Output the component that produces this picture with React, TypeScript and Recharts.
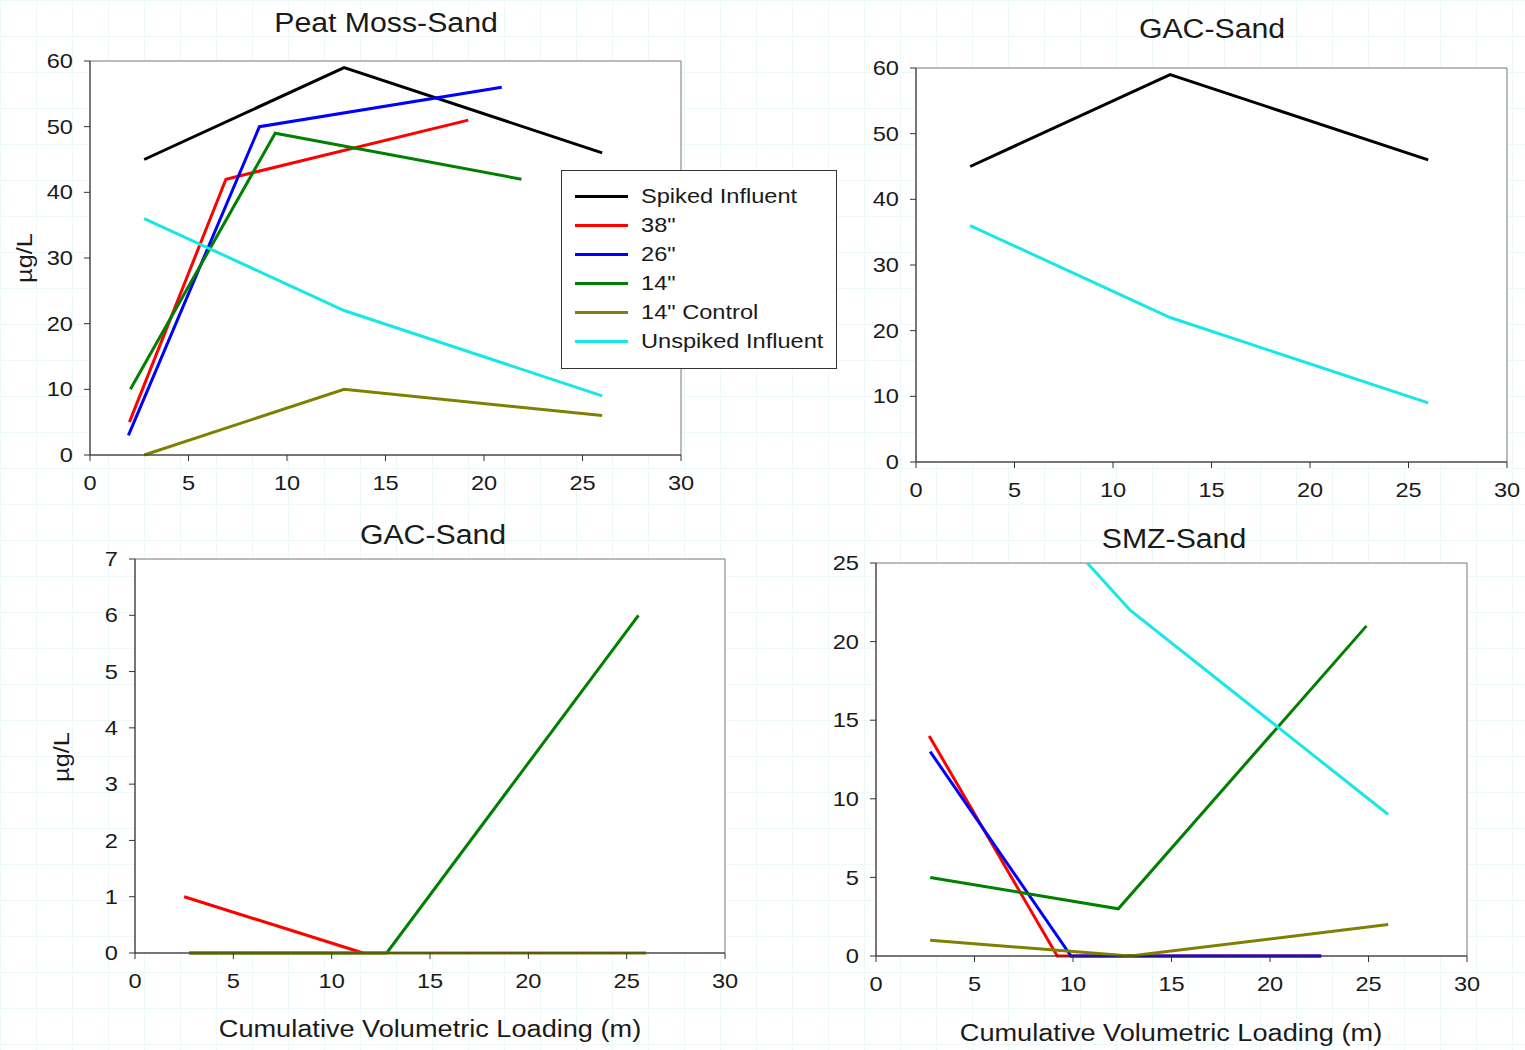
import React from "react";
import { LineChart, Line, XAxis, YAxis, ReferenceArea, Legend } from "recharts";

const FONT = '"Liberation Sans", Arial, sans-serif';
const INK = "#1a1a1a";

type Pt = [number, number];

// x = cumulative volumetric loading (m), y = µg/L
const loadingTicks = [0, 5, 10, 15, 20, 25, 30];
const influentTicks = [0, 10, 20, 30, 40, 50, 60];
const gacTicks = [0, 1, 2, 3, 4, 5, 6, 7];
const smzTicks = [0, 5, 10, 15, 20, 25];

const seriesNames = ["Spiked Influent", '38"', '26"', '14"', '14" Control', "Unspiked Influent"];
const seriesColors = ["#000000", "#ff0000", "#0000ff", "#008000", "#808000", "#19e6e6"];

// Peat Moss-Sand
const peatSpiked: Pt[] = [[2.75, 45], [12.9, 59], [26, 46]];
const peat38: Pt[] = [[2, 5], [6.9, 42], [19.2, 51]];
const peat26: Pt[] = [[1.95, 3], [8.6, 50], [20.9, 56]];
const peat14: Pt[] = [[2.05, 10], [9.4, 49], [21.9, 42]];
const peat14Control: Pt[] = [[2.75, 0], [12.9, 10], [26, 6]];
const peatUnspiked: Pt[] = [[2.75, 36], [12.9, 22], [26, 9]];

// GAC-Sand, influent
const gacSpiked: Pt[] = [[2.75, 45], [12.9, 59], [26, 46]];
const gacUnspiked: Pt[] = [[2.75, 36], [12.9, 22], [26, 9]];

// GAC-Sand, effluent
const gac38: Pt[] = [[2.5, 1], [11.6, 0]];
const gac14: Pt[] = [[2.75, 0], [12.8, 0], [25.6, 6]];
const gac14Control: Pt[] = [[2.75, 0], [12.9, 0], [26, 0]];

// SMZ-Sand
const smz38: Pt[] = [[2.7, 14], [9.2, 0], [22.6, 0]];
const smz26: Pt[] = [[2.75, 13], [9.9, 0], [22.6, 0]];
const smz14: Pt[] = [[2.75, 5], [12.3, 3], [24.9, 21]];
const smz14Control: Pt[] = [[2.75, 1], [12.9, 0], [26, 2]];
const smzUnspiked: Pt[] = [[2.75, 36], [12.9, 22], [26, 9]];

interface Series {
  idx: number;
  points: Pt[];
  clip?: boolean; // runs off the top of the axis
}

const toRows = (pts: Pt[]) => pts.map(([x, y]) => ({ x, y }));

const Y_W = 90;
const M_T = 10;
const M_R = 30;
const X_H = 50;

function XTick(props: any) {
  const { x, y, payload } = props;
  return (
    <g transform={`translate(${x},${y})`}>
      <text transform="scale(1.18,1)" textAnchor="middle" dy="0.71em" fontSize={20} fontFamily={FONT} fill={INK}>
        {payload.value}
      </text>
    </g>
  );
}

function YTick(props: any) {
  const { x, y, payload } = props;
  return (
    <g transform={`translate(${x},${y})`}>
      <text transform="scale(1.18,1)" textAnchor="end" dy="0.355em" fontSize={20} fontFamily={FONT} fill={INK}>
        {payload.value}
      </text>
    </g>
  );
}

const renderLegend = (props: any) => (
  <div
    style={{
      width: 276,
      height: 199,
      boxSizing: "border-box",
      border: "1px solid #333",
      background: "#fff",
      paddingTop: 11,
    }}
  >
    {(props.payload || []).map((p: any) => (
      <div key={p.value} style={{ height: 29, display: "flex", alignItems: "center" }}>
        <span style={{ width: 53, height: 0, borderTop: `3px solid ${p.color}`, marginLeft: 13, marginRight: 13 }} />
        <span
          style={{
            fontFamily: FONT,
            fontSize: 20,
            color: INK,
            display: "inline-block",
            transform: "scaleX(1.18)",
            transformOrigin: "left center",
            whiteSpace: "nowrap",
          }}
        >
          {p.value}
        </span>
      </div>
    ))}
  </div>
);

interface PanelProps {
  left: number;
  top: number;
  width: number;
  height: number;
  yTicks: number[];
  lines: Series[];
  legendAt?: { x: number; y: number };
}

function Panel({ left, top, width, height, yTicks, lines, legendAt }: PanelProps) {
  const yMax = yTicks[yTicks.length - 1];
  const ox = left - Y_W;
  const oy = top - M_T;
  const needsClip = lines.some((s) => s.clip);
  return (
    <div style={{ position: "absolute", left: ox, top: oy }}>
      <LineChart
        width={Y_W + width + M_R}
        height={M_T + height + X_H}
        margin={{ top: M_T, right: M_R, bottom: 0, left: 0 }}
      >
        <ReferenceArea x1={0} x2={30} y1={0} y2={yMax} fill="#ffffff" fillOpacity={1} stroke="#777" strokeWidth={1} />
        <XAxis
          type="number"
          dataKey="x"
          domain={[0, 30]}
          ticks={loadingTicks}
          interval={0}
          height={X_H}
          tickSize={6}
          tickMargin={15}
          tick={<XTick />}
          stroke="#333"
        />
        <YAxis
          type="number"
          dataKey="y"
          domain={[0, yMax]}
          ticks={yTicks}
          interval={0}
          width={Y_W}
          tickSize={6}
          tickMargin={11}
          tick={<YTick />}
          stroke="#333"
        />
        {needsClip && (
          <YAxis yAxisId="clip" type="number" dataKey="y" domain={[0, yMax]} allowDataOverflow hide />
        )}
        {lines.map((s) => (
          <Line
            key={s.idx}
            yAxisId={s.clip ? "clip" : 0}
            data={toRows(s.points)}
            dataKey="y"
            name={seriesNames[s.idx]}
            stroke={seriesColors[s.idx]}
            strokeWidth={3}
            type="linear"
            dot={false}
            activeDot={false}
            isAnimationActive={false}
          />
        ))}
        {legendAt && (
          <Legend
            layout="vertical"
            align="center"
            verticalAlign="middle"
            itemSorter={(item: any) => seriesNames.indexOf(item.value)}
            content={renderLegend}
            wrapperStyle={{ left: legendAt.x - ox, top: legendAt.y - oy, width: 276, height: 199 }}
          />
        )}
      </LineChart>
    </div>
  );
}

function Caption({
  x,
  y,
  size,
  stretch,
  rotate,
  children,
}: {
  x: number;
  y: number;
  size: number;
  stretch: number;
  rotate?: boolean;
  children: React.ReactNode;
}) {
  return (
    <div
      style={{
        position: "absolute",
        left: x,
        top: y,
        fontFamily: FONT,
        fontSize: size,
        lineHeight: 1,
        color: INK,
        whiteSpace: "nowrap",
        transform: `translate(-50%,-50%)${rotate ? " rotate(-90deg)" : ""} scaleX(${stretch})`,
      }}
    >
      {children}
    </div>
  );
}

export default function App() {
  return (
    <div
      style={{
        position: "absolute",
        left: 0,
        top: 0,
        width: 1525,
        height: 1050,
        overflow: "hidden",
        backgroundColor: "#ffffff",
        backgroundImage:
          "linear-gradient(#edf9f7 1px, transparent 1px), linear-gradient(90deg, #edf9f7 1px, transparent 1px)",
        backgroundSize: "36px 36px",
      }}
    >
      <Panel
        left={90}
        top={61}
        width={591}
        height={394}
        yTicks={influentTicks}
        lines={[
          { idx: 0, points: peatSpiked },
          { idx: 1, points: peat38 },
          { idx: 2, points: peat26 },
          { idx: 3, points: peat14 },
          { idx: 4, points: peat14Control },
          { idx: 5, points: peatUnspiked },
        ]}
        legendAt={{ x: 561, y: 170 }}
      />
      <Panel
        left={916}
        top={68}
        width={591}
        height={394}
        yTicks={influentTicks}
        lines={[
          { idx: 0, points: gacSpiked },
          { idx: 5, points: gacUnspiked },
        ]}
      />
      <Panel
        left={135}
        top={559}
        width={590}
        height={394}
        yTicks={gacTicks}
        lines={[
          { idx: 1, points: gac38 },
          { idx: 3, points: gac14 },
          { idx: 4, points: gac14Control },
        ]}
      />
      <Panel
        left={876}
        top={563}
        width={591}
        height={393}
        yTicks={smzTicks}
        lines={[
          { idx: 1, points: smz38 },
          { idx: 2, points: smz26 },
          { idx: 3, points: smz14 },
          { idx: 4, points: smz14Control },
          { idx: 5, points: smzUnspiked, clip: true },
        ]}
      />

      <Caption x={386} y={23} size={27} stretch={1.12}>Peat Moss-Sand</Caption>
      <Caption x={1212} y={29} size={27} stretch={1.12}>GAC-Sand</Caption>
      <Caption x={433} y={535} size={27} stretch={1.12}>GAC-Sand</Caption>
      <Caption x={1174} y={539} size={27} stretch={1.12}>SMZ-Sand</Caption>

      <Caption x={25} y={258} size={22} stretch={1.15} rotate>µg/L</Caption>
      <Caption x={62} y={757} size={22} stretch={1.15} rotate>µg/L</Caption>

      <Caption x={430} y={1029} size={23} stretch={1.18}>Cumulative Volumetric Loading (m)</Caption>
      <Caption x={1171} y={1033} size={23} stretch={1.18}>Cumulative Volumetric Loading (m)</Caption>
    </div>
  );
}
